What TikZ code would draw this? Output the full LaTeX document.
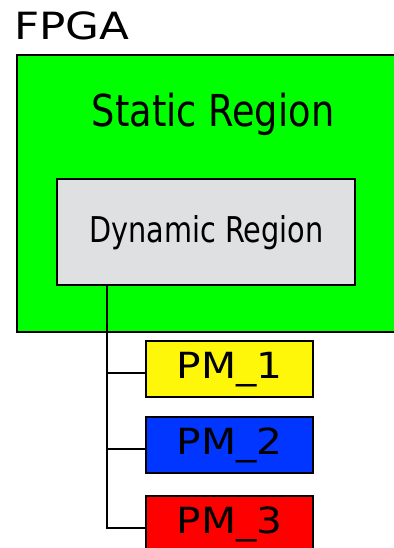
\documentclass[tikz,border=0pt]{standalone}
\usepackage{fontspec}
\setmainfont{DejaVu Sans}
\newfontfamily\statf[FakeStretch=0.835]{DejaVu Sans}
\newfontfamily\dynf[FakeStretch=0.81]{DejaVu Sans}
\newfontfamily\widef[FakeStretch=1.13]{DejaVu Sans}
\newfontfamily\fpgaf[FakeStretch=1.165]{DejaVu Sans}
\definecolor{fpgagreen}{HTML}{00FF00}
\definecolor{dyngray}{HTML}{DFE0E2}
\definecolor{pmyellow}{HTML}{FFF70A}
\definecolor{pmblue}{HTML}{0036FF}
\definecolor{pmred}{HTML}{FF0000}
\tikzset{
  region/.style={draw=black, line width=1.7pt, inner sep=0pt, outer sep=0pt},
  pmbox/.style={region, minimum width=167pt, text height=37.5pt, text depth=18.5pt, font=\widef\fontsize{36}{40}\selectfont},
  link/.style={line width=2pt}
}
\begin{document}
\begin{tikzpicture}[x=1pt,y=-1pt]
\useasboundingbox (0,0) rectangle (393,548);
\fill[white] (0,0) rectangle (393,548);
\node[anchor=base west, inner sep=0pt, font=\fpgaf\fontsize{37.5}{40}\selectfont] (fpga) at (14,40) {FPGA};
\node[region, fill=fpgagreen, anchor=north west, minimum width=390pt, minimum height=277pt] (static) at (17,55) {};
\node[anchor=base, inner sep=0pt, font=\statf\fontsize{44}{46}\selectfont] (stxt) at (213,126.7) {Static Region};
\node[region, fill=dyngray, anchor=north west, minimum width=298pt, minimum height=106pt] (dyn) at (57,179) {};
\node[anchor=base, inner sep=0pt, font=\dynf\fontsize{35.5}{38}\selectfont] (dtxt) at (206.5,242.7) {Dynamic Region};
\node[pmbox, fill=pmyellow, anchor=north west] (pm1) at (146,341) {PM\_1};
\node[pmbox, fill=pmblue, anchor=north west] (pm2) at (146,417) {PM\_2};
\node[pmbox, fill=pmred, anchor=north west] (pm3) at (146,496) {PM\_3};
\coordinate (bus) at (107,0);
\coordinate (t1) at ([yshift=-4pt]pm1.west);
\coordinate (t2) at ([yshift=-4pt]pm2.west);
\coordinate (t3) at ([yshift=-4pt]pm3.west);
\draw[link] (dyn.south -| bus) -- (bus |- t3) -- (t3);
\draw[link] (bus |- t1) -- (t1);
\draw[link] (bus |- t2) -- (t2);
\end{tikzpicture}
\end{document}
